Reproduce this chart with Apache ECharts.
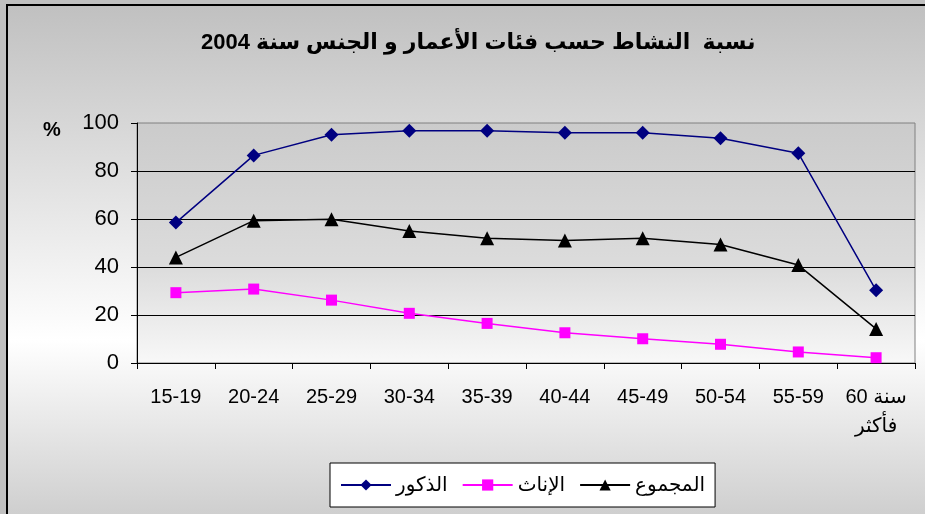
<!DOCTYPE html>
<html>
<head>
<meta charset="utf-8">
<script src="https://cdn.jsdelivr.net/npm/echarts@6/dist/echarts.min.js"></script>
<style>
  html, body { margin: 0; padding: 0; background: #fff; }
  #chart { width: 925px; height: 514px; }
</style>
</head>
<body>
<div id="chart"></div>
<script>
// الفئات العمرية
const categories = ['15-19', '20-24', '25-29', '30-34', '35-39', '40-44', '45-49', '50-54', '55-59', '60 سنة\nفأكثر'];
const yTicks = [0, 20, 40, 60, 80, 100];

// نسبة النشاط
const males = [58.5, 86.5, 95.1, 96.8, 96.8, 95.9, 95.9, 93.6, 87.4, 30.3];
const females = [29.3, 30.8, 26.2, 20.7, 16.5, 12.6, 10.1, 7.8, 4.6, 2.2];
const total = [44.0, 59.3, 59.9, 55.0, 52.0, 51.0, 52.0, 49.4, 40.8, 14.2];

const seriesNames = ['الذكور', 'الإناث', 'المجموع'];

const font = 'Liberation Sans, Arial, DejaVu Sans, sans-serif';

const chart = echarts.init(document.getElementById('chart'));

const option = {
    backgroundColor: '#c0c0c0',
    animation: false,
    graphic: [{
        type: 'rect',
        z: -100,
        shape: { x: 7, y: 5, width: 940, height: 540 },
        style: {
            fill: new echarts.graphic.LinearGradient(0, 0, 0, 1, [
                { offset: 0, color: '#c0c0c0' },
                { offset: 0.62, color: '#ffffff' },
                { offset: 1, color: '#c6c6c6' }
            ]),
            stroke: '#000',
            lineWidth: 2
        }
    }, {
        type: 'text',
        left: 43,
        top: 120,
        style: { text: '%', font: 'bold 20px ' + font, fill: '#000' }
    }],
    title: {
        text: 'نسبة  النشاط حسب فئات الأعمار و الجنس سنة 2004',
        left: 196,
        top: 27,
        textStyle: { fontFamily: font, fontWeight: 'bold', fontSize: 22, color: '#000' }
    },
    grid: {
        left: 137,
        right: 10,
        top: 123,
        bottom: 151,
        show: true,
        borderColor: '#808080',
        borderWidth: 1,
        backgroundColor: new echarts.graphic.LinearGradient(0, 0, 0, 1, [
            { offset: 0, color: '#cbcbcb' },
            { offset: 0.6, color: '#dcdcdc' },
            { offset: 1, color: '#f8f8f8' }
        ])
    },
    legend: {
        data: seriesNames,
        left: 330,
        top: 463,
        orient: 'horizontal',
        backgroundColor: '#fff',
        borderColor: '#000',
        borderWidth: 1,
        borderRadius: 0,
        padding: [12, 10, 12, 10],
        itemGap: 14,
        itemWidth: 50,
        itemHeight: 14,
        textStyle: { fontFamily: font, fontSize: 20, color: '#000' }
    },
    xAxis: {
        type: 'category',
        data: categories,
        boundaryGap: true,
        axisLine: { lineStyle: { color: '#000', width: 1 } },
        axisTick: { show: true, length: 6, lineStyle: { color: '#000' } },
        axisLabel: {
            interval: 0,
            margin: 20,
            fontFamily: font,
            fontSize: 20,
            color: '#000',
            lineHeight: 29
        }
    },
    yAxis: {
        type: 'value',
        min: 0,
        max: 100,
        interval: 20,
        axisLine: { show: true, lineStyle: { color: '#000', width: 1 } },
        axisTick: { show: true, length: 6, lineStyle: { color: '#000' } },
        axisLabel: {
            margin: 18,
            fontFamily: font,
            fontSize: 22,
            color: '#000',
            formatter: function (v) { return yTicks.indexOf(v) >= 0 ? String(v) : ''; }
        },
        splitLine: { show: true, showMaxLine: false, lineStyle: { color: '#000', width: 1 } }
    },
    series: [{
        name: seriesNames[0],
        type: 'line',
        data: males,
        symbol: 'diamond',
        symbolSize: 14,
        itemStyle: { color: '#000080' },
        lineStyle: { color: '#000080', width: 1.5 }
    }, {
        name: seriesNames[1],
        type: 'line',
        data: females,
        symbol: 'rect',
        symbolSize: 11,
        itemStyle: { color: '#ff00ff' },
        lineStyle: { color: '#ff00ff', width: 1.5 }
    }, {
        name: seriesNames[2],
        type: 'line',
        data: total,
        symbol: 'triangle',
        symbolSize: 14,
        itemStyle: { color: '#000' },
        lineStyle: { color: '#000', width: 1.5 }
    }]
};

chart.setOption(option);
</script>
</body>
</html>
